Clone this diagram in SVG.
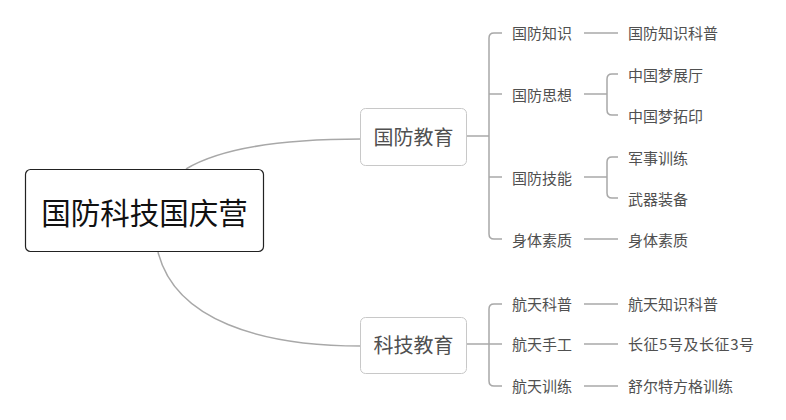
<svg xmlns="http://www.w3.org/2000/svg" width="786" height="420" viewBox="0 0 786 420">
<style>
text{font-family:"Noto Sans CJK SC","Microsoft YaHei",sans-serif;fill:#505050}
.t15{font-size:15px}
.t20{font-size:20px}
.root{font-size:29.5px;fill:#111}
.ln{fill:none;stroke:#a8a8a8;stroke-width:1.5}
.bx{fill:#fff;stroke:#c8c8c8;stroke-width:1}
</style>
<rect width="786" height="420" fill="#fff"/>
<g id="connectors">
<path class="ln" d="M186 169 C216 151 272 139 361 139"/>
<path class="ln" d="M158 252 C175 320 260 346 361 346"/>
<path class="ln" d="M467 136 H489"/>
<path class="ln" d="M502 33 H494 Q489 33 489 38 V234 Q489 239 494 239 H502"/>
<path class="ln" d="M489 94 H502"/>
<path class="ln" d="M489 177 H502"/>
<path class="ln" d="M584 33 H618"/>
<path class="ln" d="M584 94 H607"/>
<path class="ln" d="M618 74 H612 Q607 74 607 79 V110 Q607 115 612 115 H618"/>
<path class="ln" d="M584 177 H607"/>
<path class="ln" d="M618 157 H612 Q607 157 607 162 V193 Q607 198 612 198 H618"/>
<path class="ln" d="M584 239 H618"/>
<path class="ln" d="M467 344 H489"/>
<path class="ln" d="M502 304 H494 Q489 304 489 309 V381 Q489 386 494 386 H502"/>
<path class="ln" d="M489 344 H502"/>
<path class="ln" d="M584 304 H618"/>
<path class="ln" d="M584 344 H618"/>
<path class="ln" d="M584 386 H618"/>
</g>
<g id="root">
<rect x="25.5" y="169.5" width="238" height="82" rx="5" fill="#fff" stroke="#222" stroke-width="1.2"/>
<text class="root" x="144.5" y="223.5" text-anchor="middle">国防科技国庆营</text>
</g>
<g id="n-gfjy">
<rect class="bx" x="360.5" y="108.5" width="106" height="57" rx="5"/>
<text class="t20" x="413.5" y="145" text-anchor="middle">国防教育</text>
</g>
<g id="n-kjjy">
<rect class="bx" x="360.5" y="317.5" width="106" height="56" rx="5"/>
<text class="t20" x="413.5" y="353" text-anchor="middle">科技教育</text>
</g>
<g id="n-gfzs"><text class="t15" x="512" y="38.5">国防知识</text></g>
<g id="n-gfzskp"><text class="t15" x="628" y="38.5">国防知识科普</text></g>
<g id="n-gfsx"><text class="t15" x="512" y="100.5">国防思想</text></g>
<g id="n-zgmzt"><text class="t15" x="628" y="80.5">中国梦展厅</text></g>
<g id="n-zgmty"><text class="t15" x="628" y="121.5">中国梦拓印</text></g>
<g id="n-gfjn"><text class="t15" x="512" y="184">国防技能</text></g>
<g id="n-jsxl"><text class="t15" x="628" y="163.5">军事训练</text></g>
<g id="n-wqzb"><text class="t15" x="628" y="205">武器装备</text></g>
<g id="n-stsz"><text class="t15" x="512" y="246">身体素质</text></g>
<g id="n-stsz2"><text class="t15" x="628" y="246">身体素质</text></g>
<g id="n-htkp"><text class="t15" x="512" y="309.5">航天科普</text></g>
<g id="n-htzskp"><text class="t15" x="628" y="309.5">航天知识科普</text></g>
<g id="n-htsg"><text class="t15" x="512" y="350">航天手工</text></g>
<g id="n-cz"><text class="t15" x="628" y="350" textLength="126" lengthAdjust="spacing">长征5号及长征3号</text></g>
<g id="n-htxl"><text class="t15" x="512" y="392">航天训练</text></g>
<g id="n-sets"><text class="t15" x="628" y="392">舒尔特方格训练</text></g>
</svg>
